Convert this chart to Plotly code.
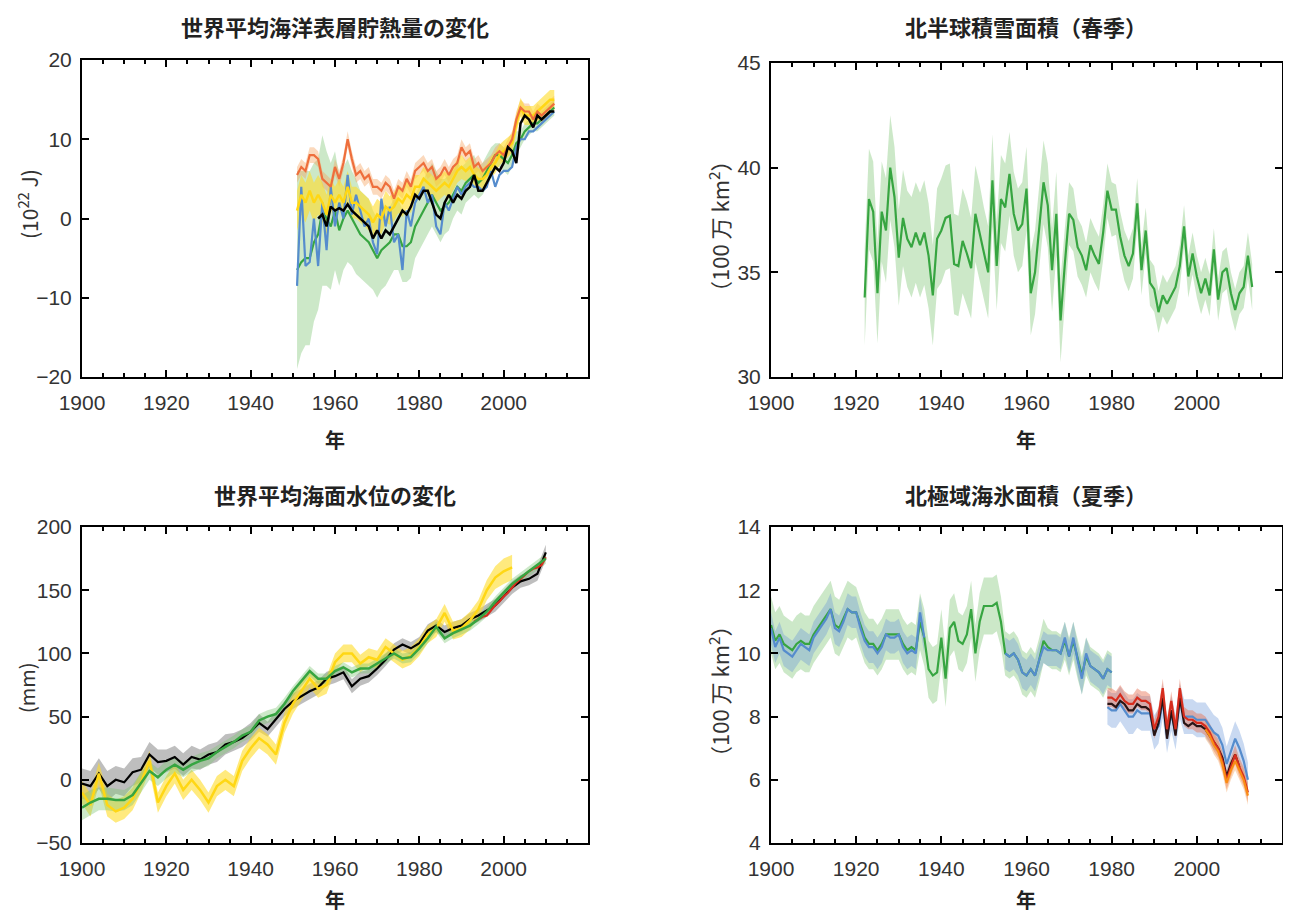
import plotly.graph_objects as go

# ---------------- DATA ----------------
# Panel 1: global upper ocean heat content (10^22 J)
OHC_YEARS = list(range(1951, 2013))
OHC_ORANGE = [5.5, 6.5, 6.0, 8.0, 8.0, 7.5, 5.0, 4.5, 4.0, 6.5,
              5.0, 7.0, 10.0, 7.5, 5.5, 6.0, 5.0, 5.5, 4.0, 4.0,
              3.5, 4.5, 4.0, 2.5, 4.0, 3.5, 5.0, 4.0, 6.0, 6.5,
              7.0, 6.0, 6.5, 5.0, 5.5, 6.5, 5.5, 6.5, 7.0, 9.0,
              8.0, 8.5, 6.5, 7.0, 6.0, 6.5, 7.0, 8.0, 8.5, 8.0,
              9.0, 10.0, 12.5, 14.0, 13.5, 13.5, 12.5, 13.5, 13.0, 13.5,
              14.0, 14.5]
OHC_YELLOW = [1.0, 3.0, 2.0, 3.5, 2.0, 3.0, 2.0, 0.5, 3.0, 2.0,
              3.0, 2.0, 4.0, 2.0, 2.0, 1.5, 1.0, 0.5, -0.5, 0.5,
              0.0, 1.5, 1.0, 1.5, 2.5, 2.0, 3.0, 2.5, 4.0, 4.0,
              5.0, 4.5, 4.0, 3.5, 4.0, 4.5, 4.0, 5.0, 6.0, 6.5,
              6.0, 6.5, 5.5, 5.0, 5.0, 5.5, 6.5, 7.0, 8.0, 8.5,
              9.0, 9.5, 12.0, 14.0, 13.0, 13.0, 13.0, 13.5, 14.0, 14.5,
              15.0, 15.0]
OHC_BLUE = [-8.5, 4.0, -6.0, -5.5, 0.0, -6.0, 2.0, -4.0, 4.0, -1.0,
            2.0, 0.0, 5.5, 0.5, 3.0, 1.0, -1.0, 0.0, -3.0, -4.5,
            2.5, -1.0, 1.5, -3.0, -2.0, -6.5, 1.0, -1.0, 2.0, 3.0,
            4.0, 2.0, 3.0, -1.0, -2.0, 2.0, 1.0, 2.5, 4.0, 3.0,
            4.0, 4.5, 4.0, 4.0, 3.5, 4.0, 6.0, 4.0, 5.5, 6.0,
            6.0, 6.5, 9.0, 10.0, 10.0, 11.0, 11.0, 11.5, 12.0, 12.5,
            13.0, 13.5]
OHC_GREEN = [-6.5, -5.5, -5.0, -5.0, -3.0, -2.0, 1.0, 0.0, -1.0, 1.0,
             -1.5, 0.0, 1.0, 0.0, -1.0, -2.0, -2.5, -3.0, -4.0, -5.0,
             -4.0, -3.5, -3.0, -2.0, -2.0, -3.5, -3.5, -3.0, -1.0, 0.0,
             1.0, 2.0, 3.0, 2.0, 1.0, 1.5, 2.0, 3.0, 4.0, 3.5,
             4.5, 5.0, 5.5, 4.5, 5.0, 6.0, 7.0, 8.0, 8.0, 7.5,
             7.0, 8.0, 9.5, 10.0, 11.0, 11.5, 12.0, 12.0, 12.5, 13.0,
             13.5, 14.0]
OHC_GREEN_ERR = [12.5, 11.5, 11.0, 11.0, 10.0, 9.5, 9.5, 8.5, 8.0, 7.5,
                 7.0, 6.5, 6.5, 6.0, 6.0, 5.5, 5.5, 5.5, 5.0, 5.0,
                 5.0, 5.0, 4.5, 4.5, 4.5, 4.5, 4.5, 4.5, 4.0, 4.0,
                 4.0, 4.0, 4.0, 4.0, 4.0, 3.5, 3.5, 3.0, 3.0, 3.0,
                 2.5, 2.5, 2.5, 2.0, 2.0, 2.0, 2.0, 1.5, 1.5, 1.5,
                 1.5, 1.5, 1.5, 1.0, 1.0, 1.0, 1.0, 1.0, 1.0, 1.0,
                 1.0, 1.0]
OHC_YELLOW_ERR = [2.5, 2.5, 2.5, 2.5, 2.5, 2.5, 2.5, 2.5, 2.0, 2.0,
                  2.0, 2.0, 2.0, 2.0, 2.0, 2.0, 2.0, 2.0, 2.0, 2.0,
                  2.0, 2.0, 1.8, 1.8, 1.8, 1.8, 1.8, 1.8, 1.5, 1.5,
                  1.5, 1.5, 1.5, 1.5, 1.5, 1.5, 1.5, 1.5, 1.5, 1.5,
                  1.3, 1.3, 1.3, 1.3, 1.3, 1.3, 1.3, 1.3, 1.3, 1.3,
                  1.2, 1.2, 1.2, 1.2, 1.2, 1.2, 1.2, 1.2, 1.2, 1.2,
                  1.2, 1.2]
OHC_ORANGE_ERR = [1.0] * 62
OHC_BLACK_YEARS = list(range(1956, 2013))
OHC_BLACK = [0.0, 0.5, -1.0, 1.5, 1.0,
             1.3, 1.0, 1.8, 1.0, 0.5, 0.0, -0.5, -1.0, -2.5, -1.5,
             -2.5, -1.5, -2.0, -1.0, 0.0, 1.0, 0.5, 1.5, 3.0, 2.5,
             3.5, 3.5, 2.0, 0.5, 0.0, 2.0, 3.0, 2.0, 3.0, 2.5,
             3.5, 4.0, 5.5, 3.5, 3.5, 4.5, 5.5, 6.5, 6.0, 7.0,
             9.0, 8.5, 7.0, 12.0, 13.0, 12.5, 11.5, 13.0, 12.5, 13.0,
             13.5, 13.5]

# Panel 2: Northern Hemisphere spring snow cover (million km2)
SNOW_YEARS = list(range(1922, 2014))
SNOW = [33.8, 38.5, 37.9, 34.0, 37.9, 37.0, 40.0, 38.6, 35.7,
        37.6, 36.6, 36.2, 36.9, 36.3, 36.9, 35.8, 33.9, 36.6, 37.0,
        37.6, 37.7, 35.4, 35.3, 36.5, 35.9, 35.2, 37.8, 36.9, 35.9,
        35.0, 39.4, 35.3, 38.5, 38.1, 39.7, 37.8, 37.0, 37.3, 39.0,
        34.0, 35.0, 37.2, 39.3, 38.2, 35.1, 37.8, 32.7, 35.4, 37.8,
        37.5, 36.2, 35.8, 35.1, 36.3, 35.8, 35.4, 36.9, 38.9, 38.0,
        38.0, 36.7, 35.8, 35.3, 35.9, 38.3, 35.1, 37.0, 34.5, 34.2,
        33.1, 33.9, 33.5, 33.9, 34.3, 35.3, 37.2, 34.8, 35.9, 34.8,
        34.0, 34.7, 33.9, 36.1, 33.7, 35.0, 35.2, 34.0, 33.2, 34.0,
        34.3, 35.8, 34.3]
SNOW_ERR = [2.3, 2.4, 2.4, 2.4, 2.4, 2.5, 2.5, 2.4, 2.3,
            2.3, 2.3, 2.4, 2.4, 2.5, 2.5, 2.5, 2.4, 2.4, 2.5,
            2.5, 2.5, 2.4, 2.4, 2.5, 2.5, 2.4, 2.3, 2.3, 2.2,
            2.2, 2.2, 2.1, 2.1, 2.1, 2.0, 2.0, 2.0, 2.0, 2.0,
            2.0, 2.0, 2.0, 2.0, 2.0, 2.0, 2.0, 2.0, 1.7, 1.5,
            1.5, 1.4, 1.4, 1.3, 1.3, 1.3, 1.3, 1.3, 1.3, 1.3,
            1.2, 1.2, 1.2, 1.2, 1.2, 1.2, 1.2, 1.1, 1.1, 1.1,
            1.0, 1.0, 1.0, 1.0, 1.0, 1.0, 1.0, 1.0, 1.0, 1.0,
            1.0, 1.0, 1.0, 1.0, 1.0, 1.0, 1.0, 1.0, 1.0, 1.0,
            1.0, 1.1, 1.1]

# Panel 3: global mean sea level (mm)
SL_YEARS = list(range(1900, 2012, 2))
SL_GREEN = [-22, -18, -15, -15, -16, -16, -12, -2, 7, 2,
            8, 12, 8, 12, 15, 17, 22, 26, 30, 35,
            38, 47, 50, 52, 60, 70, 78, 86, 80, 80,
            86, 89, 85, 88, 88, 92, 96, 100, 96, 97,
            104, 112, 121, 112, 116, 119, 122, 127, 133, 141,
            148, 155, 160, 165, 170, 175]
SL_GREEN_ERR = [10, 10, 9, 9, 9, 8, 8, 8, 7, 7,
                7, 6, 6, 6, 6, 6, 5, 5, 5, 5,
                5, 5, 5, 5, 5, 4, 4, 4, 4, 4,
                4, 4, 4, 4, 4, 4, 4, 4, 4, 4,
                4, 4, 4, 4, 4, 4, 4, 4, 4, 4,
                4, 4, 4, 4, 4, 4]
SL_BLACK = [-3, -5, 5, -5, 0, -2, 6, 8, 20, 14,
            15, 18, 12, 18, 16, 20, 22, 28, 30, 33,
            38, 45, 40, 48, 56, 62, 66, 70, 73, 80,
            82, 85, 74, 80, 82, 88, 95, 103, 107, 104,
            108, 118, 122, 117, 120, 122, 127, 130, 134, 138,
            145, 152, 157, 159, 163, 180]
SL_BLACK_ERR = [12, 12, 12, 12, 11, 11, 11, 10, 10, 10,
                9, 9, 9, 9, 8, 8, 8, 8, 7, 7,
                7, 7, 6, 6, 6, 6, 6, 6, 5.5, 5.5,
                5.5, 5.5, 5.5, 5.5, 5, 5, 5, 5, 5, 5,
                5, 5, 5, 5, 5, 5, 5, 5, 5, 5,
                5, 5, 5, 5, 5.5, 6]
SL_YELLOW_YEARS = list(range(1900, 2004, 2))
SL_YELLOW = [-10, -20, 5, -20, -25, -22, -15, -2, 15, -18,
             -5, 5, -8, 0, -8, -18, -5, 0, -5, 15,
             25, 33, 28, 20, 45, 60, 70, 80, 72, 75,
             93, 100, 100, 92, 97, 95, 105, 100, 95, 98,
             105, 115, 120, 132, 118, 120, 126, 135, 150, 160,
             165, 168]
SL_YELLOW_ERR = [9, 9, 9, 9, 9, 9, 9, 8, 8, 8,
                 8, 8, 8, 8, 8, 8, 8, 8, 8, 8,
                 8, 8, 8, 8, 8, 8, 7, 7, 7, 7,
                 7, 7, 7, 7, 7, 7, 7, 7, 7, 7,
                 7, 7, 7, 7, 7, 7, 7, 7, 8, 9,
                 10, 10]
SL_RED_YEARS = list(range(1993, 2011))
SL_RED = [125, 127, 129, 130, 134, 138, 141, 145, 148, 152,
          156, 159, 162, 165, 167, 168, 170, 176]

# Panel 4: Arctic summer sea-ice extent (million km2)
SI_HIST_YEARS = list(range(1900, 1981))
SI_GREEN = [10.9, 10.4, 10.6, 10.3, 10.2, 10.1, 10.3, 10.4, 10.3, 10.3,
            10.6, 10.8, 11.0, 11.2, 11.4, 10.9, 10.8, 11.1, 11.4, 11.3,
            11.3, 10.9, 10.5, 10.3, 10.3, 10.1, 10.3, 10.6, 10.6, 10.6,
            10.6, 10.3, 10.1, 10.2, 10.1, 11.0, 10.5, 9.5, 9.3, 9.4,
            10.5, 9.2, 10.8, 11.0, 10.4, 10.3, 10.6, 11.4, 10.0, 11.0,
            11.5, 11.5, 11.5, 11.6, 11.0, 10.0, 9.9, 10.0, 9.8, 9.4,
            9.3, 9.5, 9.3, 9.8, 10.4, 10.2, 10.1, 10.1, 10.0, 10.4,
            9.9, 10.4, 9.8, 9.3, 9.9, 9.6, 9.5, 9.4, 9.2, 9.5,
            9.4]
SI_GREEN_ERR = [0.9, 0.9, 0.9, 0.9, 0.9, 0.9, 0.9, 0.9, 0.9, 0.9,
                0.9, 0.9, 0.9, 0.9, 0.9, 0.9, 0.9, 0.9, 0.9, 0.9,
                0.8, 0.8, 0.8, 0.8, 0.8, 0.8, 0.8, 0.8, 0.8, 0.8,
                0.8, 0.8, 0.8, 0.8, 0.8, 0.9, 0.9, 0.9, 0.9, 0.9,
                0.9, 0.9, 0.9, 0.9, 0.9, 0.9, 0.9, 0.9, 0.9, 0.9,
                0.9, 0.9, 0.9, 0.9, 0.8, 0.7, 0.7, 0.7, 0.7, 0.7,
                0.7, 0.7, 0.7, 0.7, 0.7, 0.6, 0.6, 0.6, 0.6, 0.6,
                0.6, 0.6, 0.6, 0.6, 0.6, 0.6, 0.6, 0.6, 0.6, 0.6,
                0.6]
SI_BLUE_HIST = [10.8, 10.2, 10.5, 10.1, 10.0, 9.9, 10.1, 10.3, 10.2, 10.1,
                10.5, 10.7, 10.9, 11.1, 11.4, 10.8, 10.7, 11.0, 11.4, 11.3,
                11.3, 10.8, 10.4, 10.2, 10.2, 10.0, 10.2, 10.6, 10.5, 10.5,
                10.6, 10.2, 10.0, 10.1, 10.0, 11.3, 10.5,
                None, None, None, None, None, None, None, None, None,
                None, None, None, None, None, None, None, None, None,
                10.0, 9.9, 10.0, 9.8, 9.4, 9.3, 9.5, 9.3, 9.8, 10.2,
                10.1, 10.1, 10.1, 10.0, 10.5, 9.9, 10.5, 9.8, 9.2, 10.0,
                9.6, 9.5, 9.4, 9.2, 9.5, 9.4]
SI_BLUE_HIST_ERR = [0.5] * 81
SI_MOD_YEARS = list(range(1979, 2013))
SI_RED = [8.6, 8.6, 8.5, 8.7, 8.5, 8.4, 8.4, 8.6, 8.5, 8.5,
          8.4, 7.6, 8.0, 8.9, 7.6, 8.5, 7.6, 8.9, 8.0, 7.9,
          7.9, 7.8, 7.8, 7.7, 7.5, 7.2, 7.0, 6.6, 6.0, 6.4,
          6.8, 6.4, 6.1, 5.6]
SI_RED_ERR = [0.3] * 34
SI_BLUE_MOD = [8.3, 8.2, 8.2, 8.4, 8.2, 8.0, 8.0, 8.2, 8.1, 8.1,
               8.1, 7.5, 7.7, 8.5, 7.4, 8.1, 7.5, 8.5, 8.0, 8.0,
               8.0, 7.9, 7.9, 7.9, 7.7, 7.5, 7.4, 7.1, 6.5, 6.9,
               7.3, 7.0, 6.6, 6.0]
SI_BLUE_MOD_ERR = [0.55] * 34
SI_BLACK_YEARS = list(range(1979, 2011))
SI_BLACK = [8.4, 8.4, 8.3, 8.5, 8.4, 8.2, 8.2, 8.4, 8.3, 8.3,
            8.2, 7.4, 7.8, 8.6, 7.3, 8.2, 7.4, 8.6, 7.8, 7.7,
            7.8, 7.7, 7.7, 7.6, 7.4, 7.2, 7.0, 6.7, 6.1, 6.5,
            6.8, 6.4]
SI_ORANGE_YEARS = list(range(2002, 2013))
SI_ORANGE = [7.6, 7.4, 7.1, 6.9, 6.5, 5.9, 6.3, 6.6, 6.3, 6.0, 5.5]
SI_ORANGE_ERR = [0.3] * 11

TITLES = ["世界平均海洋表層貯熱量の変化", "北半球積雪面積（春季）",
          "世界平均海面水位の変化", "北極域海氷面積（夏季）"]
YTITLES = ["(10<sup>22</sup> J)", "（100 万 km<sup>2</sup>）", "(mm)", "（100 万 km<sup>2</sup>）"]
XTITLE = "年"
XTICKS = [1900, 1920, 1940, 1960, 1980, 2000]

# ---------------- STYLE ----------------
# The page body has an 8px margin at the top/left; the figure fills the rest of the window.
OFF = 8
W, H = 1291 - OFF, 918 - OFF
GREEN = "rgb(55,165,65)"
GREEN_BAND = "rgba(120,195,110,0.38)"
BLUE = "rgb(85,140,205)"
BLUE_BAND = "rgba(100,145,215,0.35)"
ORANGE = "rgb(238,110,60)"
ORANGE_BAND = "rgba(245,160,90,0.40)"
YELLOW = "rgb(255,215,20)"
YELLOW_BAND = "rgba(255,220,40,0.60)"
GRAY_BAND = "rgba(110,110,110,0.45)"
RED = "rgb(215,45,30)"
RED_BAND = "rgba(230,110,80,0.45)"
ORANGE2 = "rgb(250,140,20)"


def fx(x):
    return (x - OFF) / W


def fy(y):
    return 1 - (y - OFF) / H


fig = go.Figure()


def band(xs, ys, errs, color, ax):
    seg_x, seg_u, seg_l = [], [], []
    segs = []
    for x, y, e in zip(xs, ys, errs):
        if y is None:
            if seg_x:
                segs.append((seg_x, seg_u, seg_l))
            seg_x, seg_u, seg_l = [], [], []
            continue
        seg_x.append(x)
        seg_u.append(y + e)
        seg_l.append(y - e)
    if seg_x:
        segs.append((seg_x, seg_u, seg_l))
    for sx, su, sl in segs:
        fig.add_trace(go.Scatter(x=sx + sx[::-1], y=su + sl[::-1], fill="toself",
                                 fillcolor=color, line=dict(width=0), mode="lines",
                                 hoverinfo="skip", showlegend=False,
                                 xaxis="x" + ax, yaxis="y" + ax))


def line(xs, ys, color, ax, width=2.2):
    fig.add_trace(go.Scatter(x=xs, y=ys, mode="lines", line=dict(color=color, width=width),
                             connectgaps=False, showlegend=False,
                             xaxis="x" + ax, yaxis="y" + ax))


# Panel 1
band(OHC_YEARS, OHC_GREEN, OHC_GREEN_ERR, GREEN_BAND, "")
band(OHC_YEARS, OHC_ORANGE, OHC_ORANGE_ERR, ORANGE_BAND, "")
band(OHC_YEARS, OHC_YELLOW, OHC_YELLOW_ERR, YELLOW_BAND, "")
line(OHC_YEARS, OHC_GREEN, GREEN, "")
line(OHC_YEARS, OHC_BLUE, BLUE, "")
line(OHC_YEARS, OHC_YELLOW, YELLOW, "", 2.5)
line(OHC_YEARS, OHC_ORANGE, ORANGE, "")
line(OHC_BLACK_YEARS, OHC_BLACK, "black", "", 2.5)

# Panel 2
band(SNOW_YEARS, SNOW, SNOW_ERR, GREEN_BAND, "2")
line(SNOW_YEARS, SNOW, GREEN, "2")

# Panel 3
band(SL_YEARS, SL_BLACK, SL_BLACK_ERR, GRAY_BAND, "3")
band(SL_YELLOW_YEARS, SL_YELLOW, SL_YELLOW_ERR, YELLOW_BAND, "3")
band(SL_YEARS, SL_GREEN, SL_GREEN_ERR, GREEN_BAND, "3")
line(SL_YEARS, SL_BLACK, "black", "3")
line(SL_YELLOW_YEARS, SL_YELLOW, YELLOW, "3", 2.5)
line(SL_RED_YEARS, SL_RED, RED, "3")
line(SL_YEARS, SL_GREEN, GREEN, "3", 2.5)

# Panel 4
band(SI_HIST_YEARS, SI_GREEN, SI_GREEN_ERR, GREEN_BAND, "4")
band(SI_HIST_YEARS, SI_BLUE_HIST, SI_BLUE_HIST_ERR, BLUE_BAND, "4")
band(SI_MOD_YEARS, SI_BLUE_MOD, SI_BLUE_MOD_ERR, BLUE_BAND, "4")
band(SI_MOD_YEARS, SI_RED, SI_RED_ERR, RED_BAND, "4")
band(SI_ORANGE_YEARS, SI_ORANGE, SI_ORANGE_ERR, ORANGE_BAND, "4")
line(SI_HIST_YEARS, SI_GREEN, GREEN, "4")
line(SI_HIST_YEARS, SI_BLUE_HIST, BLUE, "4")
line(SI_MOD_YEARS, SI_BLUE_MOD, BLUE, "4")
line(SI_BLACK_YEARS, SI_BLACK, "rgb(40,20,20)", "4")
line(SI_MOD_YEARS, SI_RED, RED, "4")
line(SI_ORANGE_YEARS, SI_ORANGE, ORANGE2, "4")

# ---------------- LAYOUT ----------------
LX = [fx(82), fx(588)]
RX = [fx(771), fx(1282)]
TY1 = [fy(377), fy(60)]
TY2 = [fy(377), fy(63)]
BY = [fy(843), fy(527)]

tickfont = dict(family="Liberation Sans Narrow, Liberation Sans, Arial", size=21, color="#333")


def xax(dom, anchor):
    return dict(domain=dom, anchor=anchor, range=[1900, 2020], tickmode="array",
                tickvals=XTICKS, ticks="inside", ticklen=7, tickwidth=1.5, tickcolor="black",
                minor=dict(tickmode="linear", tick0=1900, dtick=5, ticks="inside",
                           ticklen=4, tickcolor="black"),
                showline=True, linecolor="black", linewidth=2, mirror="ticks",
                showgrid=False, zeroline=False, tickfont=tickfont, automargin=False,
                ticklabelstandoff=6)


def yax(dom, anchor, rng, dtick):
    return dict(domain=dom, anchor=anchor, range=rng, dtick=dtick, tick0=rng[0],
                ticks="inside", ticklen=7, tickwidth=1.5, tickcolor="black",
                showline=True, linecolor="black", linewidth=2, mirror="ticks",
                showgrid=False, zeroline=False, tickfont=tickfont, automargin=False,
                ticklabelstandoff=4)


annotations = []
title_font = dict(family="Noto Sans CJK JP", size=22, color="#222")
for txt, cx, cy in zip(TITLES, [335, 1026, 335, 1026], [26, 26, 494, 494]):
    annotations.append(dict(text="<b>" + txt + "</b>", x=fx(cx), y=fy(cy), xref="paper",
                            yref="paper", showarrow=False, xanchor="center", yanchor="middle",
                            font=title_font))
for cx, cy in [(335, 439), (1026, 439), (335, 899), (1026, 899)]:
    annotations.append(dict(text="<b>" + XTITLE + "</b>", x=fx(cx), y=fy(cy), xref="paper",
                            yref="paper", showarrow=False, xanchor="center", yanchor="middle",
                            font=dict(family="Noto Sans CJK JP", size=20, color="#222")))
for txt, cx, cy, fs in zip(YTITLES, [28, 718, 26, 718], [204, 226, 688, 691], [21, 22, 20, 22]):
    annotations.append(dict(text=txt, x=fx(cx), y=fy(cy), xref="paper", yref="paper",
                            showarrow=False, xanchor="center", yanchor="middle", textangle=-90,
                            font=dict(family="Noto Sans CJK JP", size=fs, color="#333")))

fig.update_layout(
    width=W, height=H, autosize=False,
    margin=dict(l=0, r=0, t=0, b=0),
    paper_bgcolor="white", plot_bgcolor="white",
    showlegend=False,
    xaxis=xax(LX, "y"), yaxis=yax(TY1, "x", [-20, 20], 10),
    xaxis2=xax(RX, "y2"), yaxis2=yax(TY2, "x2", [30, 45], 5),
    xaxis3=xax(LX, "y3"), yaxis3=yax(BY, "x3", [-50, 200], 50),
    xaxis4=xax(RX, "y4"), yaxis4=yax(BY, "x4", [4, 14], 2),
    annotations=annotations,
)

fig.write_html("out.html")
